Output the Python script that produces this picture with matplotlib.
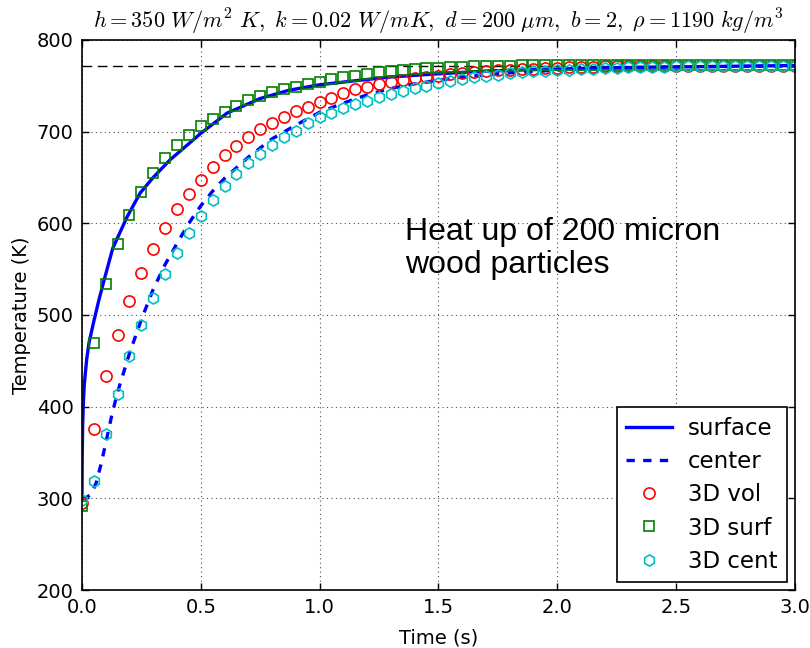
import numpy as np
import matplotlib
matplotlib.use('Agg')
import matplotlib.pyplot as plt

plt.rcParams['mathtext.fontset'] = 'cm'
plt.rcParams['font.family'] = ['DejaVu Sans']

# 3D model samples every 0.05 s
t3d = np.linspace(0, 3, 61)
T_vol = [295, 376, 433, 478, 515, 546, 572, 595, 615, 632,
         647, 661, 674, 684, 694, 703, 709, 716, 722, 727,
         732, 737, 742, 746, 749, 752, 754, 756, 758, 759.5,
         761, 762.5, 764, 765, 766, 767, 767.5, 768, 768.5, 769,
         769.5, 770, 770.5, 770.5, 771, 771, 771.5, 771.5, 771.5, 772,
         772, 772, 772, 772, 772, 772, 772, 772, 772, 772,
         772]
T_surf3d = [292, 469, 534, 577, 609, 634, 655, 671, 685, 696,
            706, 714, 721, 728, 734, 739, 743, 746, 749, 752,
            754.5, 757, 759, 761, 763, 764.5, 766, 767, 768, 769,
            769.5, 770, 770.5, 771, 771.5, 772, 772, 772.5, 772.5, 772.5,
            772.5, 773, 773, 773, 773, 773, 773, 773, 773, 773,
            773, 773, 773, 773, 773, 773, 773, 773, 773, 773,
            773]
T_cent3d = [298, 319, 370, 414, 455, 489, 519, 545, 568, 589,
            608, 625, 641, 654, 666, 676, 685, 694, 701, 709,
            715.5, 720.5, 725.5, 730, 733.5, 737.5, 741, 744.5, 747, 750,
            752.5, 755, 757, 759, 760.5, 762, 763.5, 764.5, 765.5, 766.5,
            767, 767.5, 768, 768.5, 769, 769.5, 770, 770, 770.5, 770.5,
            771, 771, 771, 771.5, 771.5, 771.5, 771.5, 772, 772, 772,
            772]

# 1D model curves
t_surf = [0, 0.001, 0.003, 0.006, 0.01, 0.02, 0.03, 0.048, 0.07, 0.09, 0.13,
          0.19, 0.245, 0.3, 0.37, 0.5, 0.61, 0.75, 0.87, 1.0, 1.17, 1.3,
          1.5, 1.7, 1.9, 2.2, 2.5, 3.0]
T_surf = [300, 345, 380, 405, 425, 452, 470, 491, 515, 535, 573,
          607, 633, 650, 669, 698, 720, 736, 745, 751, 756, 759.5,
          763, 766, 767.5, 769.5, 770.5, 772]
t_cent = [0, 0.02, 0.04, 0.06, 0.08, 0.1, 0.125, 0.15, 0.2, 0.25, 0.3, 0.35,
          0.4, 0.45, 0.5, 0.55, 0.6, 0.7, 0.8, 0.9, 1.0, 1.1, 1.2, 1.3, 1.4,
          1.5, 1.6, 1.8, 2.0, 2.2, 2.5, 3.0]
T_cent = [300, 301, 305, 317, 337, 360, 390, 416, 458, 495, 528, 555,
          578, 600, 619, 635, 649, 672, 692, 707, 721, 731, 740, 747, 752,
          756, 759.5, 764, 767, 769, 770.5, 771.5]

T_final = 772

fig = plt.figure(figsize=(8.1, 6.48), dpi=100)
ax = fig.add_axes([0.1012, 0.0895, 0.880, 0.849])

ax.axhline(T_final, color='k', lw=1, dashes=(7, 4))
ax.plot(t_surf, T_surf, color='b', lw=2.4, label='surface')
ax.plot(t_cent, T_cent, color='b', lw=2.4, ls=(0, (2.5, 2.5)), label='center')
ax.plot(t3d, T_vol, 'o', mfc='none', mec='r', ms=8, mew=1.2, label='3D vol')
ax.plot(t3d, T_surf3d, 's', mfc='none', mec='g', ms=7.5, mew=1.2, label='3D surf')
ax.plot(t3d, T_cent3d, 'h', mfc='none', mec='c', ms=8, mew=1.2, label='3D cent')

ax.set_xlim(0, 3)
ax.set_ylim(200, 800)
ax.set_xticks(np.arange(0, 3.01, 0.5))
ax.set_yticks(np.arange(200, 801, 100))
ax.grid(True, color='0.3', ls=(0, (1, 3)), lw=0.8)
ax.tick_params(direction='in', top=True, right=True, length=5, width=1, labelsize=14, pad=6)
for s in ax.spines.values():
    s.set_linewidth(1.2)

ax.set_xlabel('Time (s)', fontsize=14, labelpad=8)
ax.set_ylabel('Temperature (K)', fontsize=14)
ax.set_title(r'$h=350\ W/m^2\ K,\ k=0.02\ W/mK,\ d=200\ \mu m,\ b=2,\ \rho=1190\ kg/m^3$',
             fontsize=16, pad=8)

ax.text(1.36, 546, 'Heat up of 200 micron\nwood particles', fontsize=23,
        family='Liberation Sans', va='baseline', linespacing=1.1)

leg = ax.legend(loc='lower right', numpoints=1, fontsize=16.5, fancybox=False,
                framealpha=1, edgecolor='k', labelspacing=0.45, handlelength=2.0,
                handletextpad=0.7, borderaxespad=0.35)
leg.get_frame().set_linewidth(1.2)

fig.savefig('out.png', dpi=100)
